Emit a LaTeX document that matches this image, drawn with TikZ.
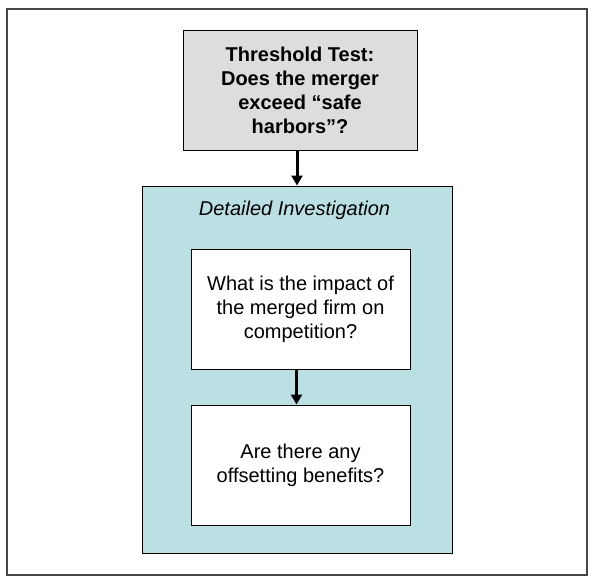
\documentclass[tikz,border=0pt]{standalone}
\usepackage{fontspec}
\setmainfont{Liberation Sans}
\usetikzlibrary{arrows.meta}
\definecolor{boxgray}{RGB}{221,221,221}
\definecolor{tealfill}{RGB}{187,224,227}
\definecolor{framegray}{RGB}{70,70,70}
\tikzset{
  txt/.style={font=\fontsize{20}{24}\selectfont, align=center, inner sep=0pt},
  graybox/.style={draw=black, line width=1pt, fill=boxgray, minimum width=234pt, minimum height=120pt, txt, font=\fontsize{20}{24}\selectfont\bfseries},
  whitebox/.style={draw=black, line width=1pt, fill=white, minimum width=219pt, minimum height=120pt, txt},
  tealbox/.style={draw=black, line width=1pt, fill=tealfill, minimum width=310pt, minimum height=367pt, inner sep=0pt},
  flow/.style={line width=3pt, -{Triangle[length=10pt,width=11pt]}},
}
\begin{document}
\begin{tikzpicture}[x=1pt,y=-1pt]
\useasboundingbox (0,0) rectangle (594,584);
\draw[framegray, line width=2pt] (7,9) rectangle (587,575);
\node[graybox] (g) at (300,90) {Threshold Test:\\Does the merger\\exceed “safe\\harbors”?};
\node[tealbox] (t) at (297,369.5) {};
\node[txt, font=\fontsize{20}{24}\selectfont\itshape, anchor=base] (title) at (294.5,215) {Detailed Investigation};
\node[whitebox] (b1) at (300.5,309) {What is the impact of\\the merged firm on\\competition?};
\node[whitebox] (b2) at (300.5,465) {Are there any\\offsetting benefits?};
\draw[flow] (g.south -| t.north) -- (t.north);
\draw[flow] ([xshift=-4pt]b1.south) -- ([xshift=-4pt]b2.north);
\end{tikzpicture}
\end{document}
